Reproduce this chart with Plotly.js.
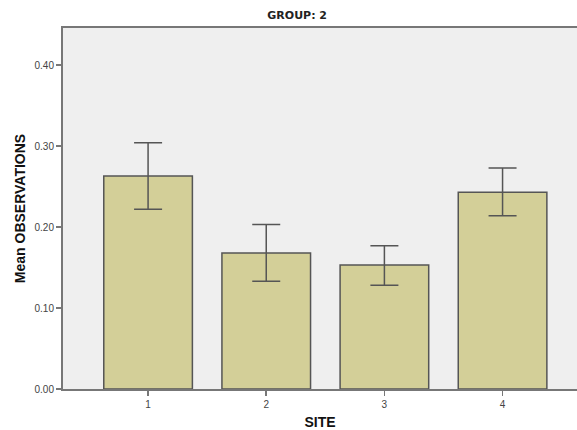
<!DOCTYPE html>
<html>
<head>
<meta charset="utf-8">
<script src="https://cdn.plot.ly/plotly-3.0.1.min.js"></script>
<style>html,body{margin:0;padding:0;background:#fff;}#chart{width:577px;height:430px;}</style>
</head>
<body>
<div id="chart"></div>
<script>
const sites = ["1", "2", "3", "4"];
const siteX = [1, 2, 3, 4];
const means = [0.263, 0.168, 0.153, 0.243];
const upperCI = [0.304, 0.203, 0.177, 0.273];
const lowerCI = [0.222, 0.133, 0.128, 0.214];
const yTickVals = [0, 0.1, 0.2, 0.3, 0.4];
const yTickText = ["0.00", "0.10", "0.20", "0.30", "0.40"];

const errPlus = means.map((m, i) => upperCI[i] - m);
const errMinus = means.map((m, i) => m - lowerCI[i]);

const trace = {
  type: "bar",
  x: siteX,
  y: means,
  width: 0.75,
  marker: {color: "#d3cf98", line: {color: "#555555", width: 1.5}},
  error_y: {type: "data", symmetric: false, array: errPlus, arrayminus: errMinus,
            color: "#555555", thickness: 1.5, width: 14},
  hoverinfo: "none"
};

const layout = {
  width: 577, height: 430,
  margin: {l: 63, r: 0, t: 28, b: 41},
  paper_bgcolor: "#ffffff",
  plot_bgcolor: "#efefef",
  showlegend: false,
  title: {text: "GROUP: 2", x: 0.515, xanchor: "center", y: 0.965, yanchor: "middle",
          font: {family: "DejaVu Sans", size: 11, color: "#222222", weight: "bold"}},
  xaxis: {
    range: [0.28, 4.63],
    tickvals: siteX, ticktext: sites,
    showgrid: false, zeroline: false,
    showline: true, linecolor: "#777777", linewidth: 2, mirror: true,
    ticks: "outside", ticklen: 5, tickwidth: 1.5, tickcolor: "#777777",
    tickfont: {family: "Liberation Sans", size: 10, color: "#444444"},
    title: {text: "SITE", standoff: 14, font: {family: "Liberation Sans", size: 14, color: "#111111", weight: "bold"}}
  },
  yaxis: {
    range: [0, 0.4457],
    tickvals: yTickVals, ticktext: yTickText,
    showgrid: false, zeroline: false,
    showline: true, linecolor: "#777777", linewidth: 2,
    ticks: "outside", ticklen: 5, tickwidth: 1.5, tickcolor: "#777777",
    tickfont: {family: "Liberation Sans", size: 10, color: "#444444"},
    title: {text: "Mean OBSERVATIONS", standoff: 6, font: {family: "Liberation Sans", size: 14, color: "#111111", weight: "bold"}}
  }
};

Plotly.newPlot("chart", [trace], layout, {staticPlot: true, displayModeBar: false});
</script>
</body>
</html>
